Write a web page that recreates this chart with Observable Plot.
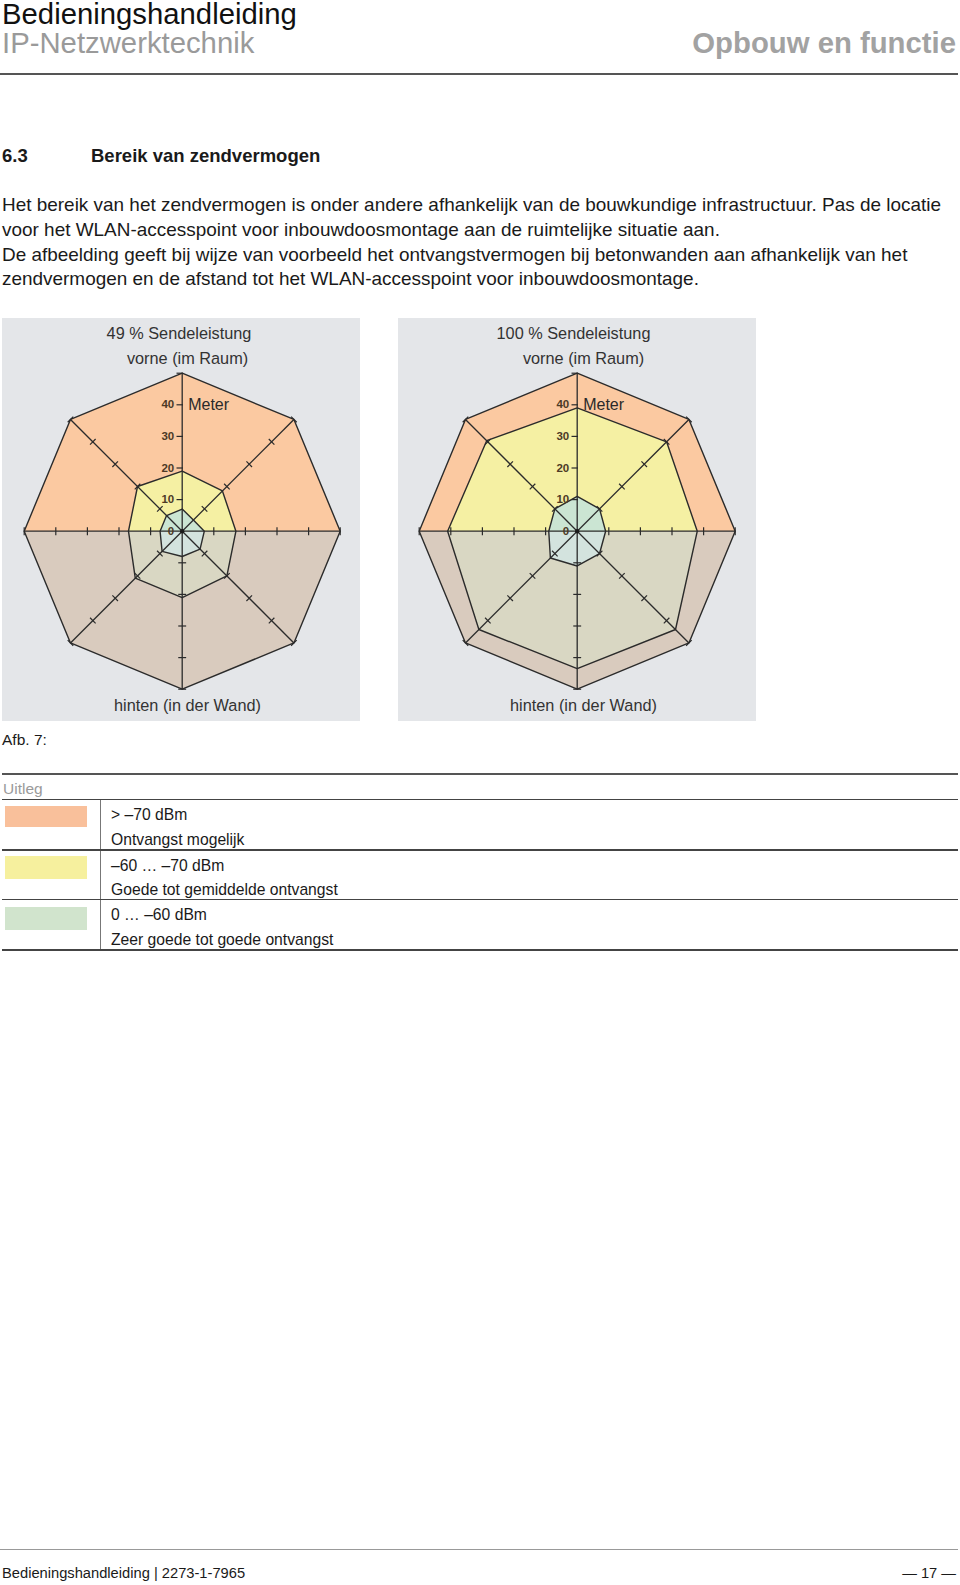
<!DOCTYPE html>
<html>
<head>
<meta charset="utf-8">
<script src="https://cdn.jsdelivr.net/npm/d3@7"></script>
<script src="https://cdn.jsdelivr.net/npm/@observablehq/plot@0.6"></script>
<style>
  html, body { margin: 0; padding: 0; background: #fff; }
  body { width: 960px; height: 1585px; position: relative; overflow: hidden;
         font-family: "Liberation Sans", Arial, sans-serif; color: #1a1a1a; }
  .t { position: absolute; white-space: nowrap; line-height: 1; }
  .h { position: absolute; white-space: nowrap; line-height: 27px; font-size: 29.3px; }
  .rule { position: absolute; }
  .panel { position: absolute; top: 318px; width: 358px; height: 403px; }
  .sw { position: absolute; left: 5px; width: 82px; }
</style>
</head>
<body>
<!-- header -->
<div class="h" style="left:2px; top:0px; color:#111;">Bedieningshandleiding</div>
<div class="h" style="left:2px; top:29px; color:#9a9a9a;">IP-Netzwerktechnik</div>
<div class="h" style="right:4px; top:29px; color:#a2a2a2; font-weight:bold;">Opbouw en functie</div>
<div class="rule" style="left:0; top:73px; width:958px; height:1.5px; background:#555;"></div>

<!-- section heading -->
<div class="t" style="left:2px; top:147px; font-size:18.5px; font-weight:bold;">6.3</div>
<div class="t" style="left:91px; top:147px; font-size:18.5px; font-weight:bold;">Bereik van zendvermogen</div>

<div class="t" style="left:2px; top:196px; font-size:18.95px;">Het bereik van het zendvermogen is onder andere afhankelijk van de bouwkundige infrastructuur. Pas de locatie</div>
<div class="t" style="left:2px; top:220.5px; font-size:18.95px;">voor het WLAN-accesspoint voor inbouwdoosmontage aan de ruimtelijke situatie aan.</div>
<div class="t" style="left:2px; top:245.5px; font-size:18.95px;">De afbeelding geeft bij wijze van voorbeeld het ontvangstvermogen bij betonwanden aan afhankelijk van het</div>
<div class="t" style="left:2px; top:270px; font-size:18.95px;">zendvermogen en de afstand tot het WLAN-accesspoint voor inbouwdoosmontage.</div>

<div id="chart49" class="panel" style="left:2px;"></div>
<div id="chart100" class="panel" style="left:398px;"></div>

<div class="t" style="left:2px; top:732px; font-size:15.5px;">Afb. 7:</div>

<!-- legend -->
<div class="rule" style="left:2px; top:773px; width:956px; height:2px; background:#555;"></div>
<div class="t" style="left:3px; top:781px; font-size:15.5px; color:#9a9a9a;">Uitleg</div>
<div class="rule" style="left:2px; top:798.5px; width:956px; height:1.5px; background:#444;"></div>
<div class="rule" style="left:100px; top:800px; width:1px; height:150px; background:#777;"></div>

<div class="sw" id="sw1" style="top:806px; height:21px;"></div>
<div class="t" style="left:111px; top:807px; font-size:15.7px;">&gt; –70 dBm</div>
<div class="t" style="left:111px; top:831.5px; font-size:15.7px;">Ontvangst mogelijk</div>
<div class="rule" style="left:2px; top:849px; width:956px; height:1.5px; background:#444;"></div>

<div class="sw" id="sw2" style="top:856px; height:23px;"></div>
<div class="t" style="left:111px; top:857.5px; font-size:15.7px;">–60 … –70 dBm</div>
<div class="t" style="left:111px; top:882px; font-size:15.7px;">Goede tot gemiddelde ontvangst</div>
<div class="rule" style="left:2px; top:898.5px; width:956px; height:1.5px; background:#444;"></div>

<div class="sw" id="sw3" style="top:907px; height:23px;"></div>
<div class="t" style="left:111px; top:907px; font-size:15.7px;">0 … –60 dBm</div>
<div class="t" style="left:111px; top:932px; font-size:15.7px;">Zeer goede tot goede ontvangst</div>
<div class="rule" style="left:2px; top:949px; width:956px; height:1.5px; background:#444;"></div>

<!-- footer -->
<div class="rule" style="left:0; top:1548.5px; width:958px; height:1px; background:#999;"></div>
<div class="t" style="left:2px; top:1566px; font-size:14.7px;">Bedieningshandleiding | 2273-1-7965</div>
<div class="t" style="right:4px; top:1566px; font-size:14.7px;">— 17 —</div>

<script>
// ---------- data ----------
const directions = ["vorne", "vorne rechts", "rechts", "hinten rechts", "hinten", "hinten links", "links", "vorne links"];
const directionAngles = [0, 45, 90, 135, 180, 225, 270, 315];

// radii in metres, one value per direction
const outer49  = [50, 50, 50, 50, 50, 50, 50, 50];
const middle49 = [19, 18, 17, 20, 21, 21, 17, 20];
const inner49  = [7, 5, 7, 8, 8, 9, 7, 7];

const outer100  = [50, 50, 50, 50, 50, 50, 50, 50];
const middle100 = [39, 40, 38, 44, 43.5, 44, 41, 40.5];
const inner100  = [11, 10, 9, 10, 11, 12, 9, 10];

const tickValues = [10, 20, 30, 40, 50];
const labelValues = [0, 10, 20, 30, 40];
const labelTexts = ["0", "10", "20", "30", "40"];

const rangeLabels = ["> –70 dBm", "–60 … –70 dBm", "0 … –60 dBm"];
const ringColorsUpper = ["#fbc9a1", "#f5f0a3", "#cbe5d3"];
const ringColorsLower = ["#d9cbbe", "#d9d7c3", "#d3e3de"];
const legendColors = ["#f9c09b", "#f6f09e", "#d1e4cd"];

// ---------- helpers ----------
function polar(r, deg) {
  const a = deg * Math.PI / 180;
  return {x: r * Math.sin(a), y: r * Math.cos(a)};
}
const upperIdx = [2, 1, 0, 7, 6];
const lowerIdx = [6, 5, 4, 3, 2];
function half(radii, idx) {
  return idx.map(i => polar(radii[i], directionAngles[i])).concat([{x: 0, y: 0}]);
}
function ring(radii) {
  return radii.map((r, i) => polar(r, directionAngles[i]));
}

function chart(title, rings, cx, titleDx) {
  const FONT = "Liberation Sans, Arial, sans-serif";
  const cy = 212.7, pxR = 158;
  const marks = [];
  rings.forEach((radii, k) => {
    marks.push(Plot.line(half(radii, upperIdx), {x: "x", y: "y", fill: ringColorsUpper[k], stroke: "none", curve: "linear-closed"}));
    marks.push(Plot.line(half(radii, lowerIdx), {x: "x", y: "y", fill: ringColorsLower[k], stroke: "none", curve: "linear-closed"}));
  });
  // spokes
  const spokes = directionAngles.map(a => ({a, ...polar(50, a)}));
  marks.push(Plot.link(spokes, {x1: () => 0, y1: () => 0, x2: "x", y2: "y", stroke: "#2b2b2b", strokeWidth: 1.3}));
  // ring outlines
  rings.forEach(radii => {
    marks.push(Plot.line(ring(radii), {x: "x", y: "y", stroke: "#2b2b2b", strokeWidth: 1.4, fill: "none", curve: "linear-closed"}));
  });
  // ticks on spokes
  const ticks = [];
  directionAngles.forEach(a => {
    const rad = a * Math.PI / 180;
    const nx = Math.cos(rad), ny = -Math.sin(rad);
    tickValues.forEach(t => {
      const p = polar(t, a);
      let h1 = 1.25, h2 = 1.25;
      if (a === 0) { h1 = 1.8; h2 = 0.25; }
      ticks.push({x1: p.x - nx * h1, y1: p.y - ny * h1, x2: p.x + nx * h2, y2: p.y + ny * h2});
    });
  });
  marks.push(Plot.link(ticks, {x1: "x1", y1: "y1", x2: "x2", y2: "y2", stroke: "#2b2b2b", strokeWidth: 1.2}));
  marks.push(Plot.dot([{x: 0, y: 0}], {x: "x", y: "y", r: 2.2, fill: "#1a1a1a", stroke: "none"}));
  // axis labels
  marks.push(Plot.text(labelValues, {x: () => 0, y: d => d, text: (d, i) => labelTexts[i], dx: -8, textAnchor: "end",
    fontSize: 11.5, fontWeight: 600, fill: "#4d3a26", fontFamily: FONT}));
  marks.push(Plot.text(["Meter"], {x: () => 0, y: () => 40, text: d => d, dx: 6, dy: 0, textAnchor: "start",
    fontSize: 16, fill: "#2a2a2a", fontFamily: FONT}));
  // titles
  marks.push(Plot.text([title], {frameAnchor: "top", text: d => d, dy: 15, dx: titleDx, fontSize: 16.3, fill: "#333", fontFamily: FONT, lineAnchor: "middle"}));
  marks.push(Plot.text(["vorne (im Raum)"], {frameAnchor: "top", text: d => d, dy: 40, dx: 6, fontSize: 16.3, fill: "#333", fontFamily: FONT, lineAnchor: "middle"}));
  marks.push(Plot.text(["hinten (in der Wand)"], {frameAnchor: "bottom", text: d => d, dy: -16, dx: 6, fontSize: 16.3, fill: "#333", fontFamily: FONT, lineAnchor: "middle"}));

  return Plot.plot({
    width: 358, height: 403,
    margin: 0,
    x: {domain: [-50, 50], range: [cx - pxR, cx + pxR], axis: null},
    y: {domain: [-50, 50], range: [cy + pxR, cy - pxR], axis: null},
    style: {background: "#e4e6e9", fontFamily: FONT, overflow: "visible"},
    marks
  });
}

document.getElementById("chart49").appendChild(chart("49 % Sendeleistung", [outer49, middle49, inner49], 179.7, -2.5));
document.getElementById("chart100").appendChild(chart("100 % Sendeleistung", [outer100, middle100, inner100], 178.7, -4));

["sw1", "sw2", "sw3"].forEach((id, i) => {
  const el = document.getElementById(id);
  el.style.background = legendColors[i];
  el.title = rangeLabels[i];
});
</script>
</body>
</html>
